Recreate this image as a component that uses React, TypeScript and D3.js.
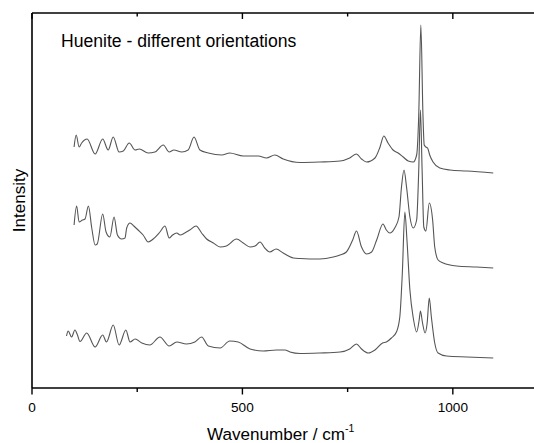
import React from "react";
import * as d3 from "d3";

const TITLE = "Huenite - different orientations";
const X_LABEL = "Wavenumber / cm";
const Y_LABEL = "Intensity";
const X_DOMAIN: [number, number] = [0, 1200];
const Y_DOMAIN: [number, number] = [0, 375];
const MAJOR_TICKS = [0, 500, 1000];
const MINOR_TICKS = [250, 750];

// [wavenumber (cm-1), intensity (a.u., offset)]
const topSpectrum: [number, number][] = [
  [100, 241], [105, 253], [112, 241], [118, 245], [131, 249], [150, 234], [168, 249],
  [181, 238], [193, 251], [207, 236], [217, 237], [231, 245], [245, 238], [255, 239],
  [276, 235], [292, 236], [312, 243], [326, 236], [337, 238], [356, 236], [371, 238],
  [385, 251], [399, 238], [419, 235], [451, 233], [470, 235], [502, 232], [538, 232],
  [557, 230], [577, 233], [597, 229], [637, 225.5], [684, 226], [732, 227], [755, 230],
  [771, 234], [783, 229], [795, 226], [815, 230], [827, 241], [836, 252], [846, 245],
  [858, 238], [870, 235], [882, 231], [894, 227], [906, 226], [914, 233], [919, 273],
  [924, 363], [929, 273], [932, 243], [936, 241], [940, 240], [945, 233], [953, 226],
  [969, 220], [993, 218], [1033, 217], [1096, 215],
];

const middleSpectrum: [number, number][] = [
  [100, 163], [106, 182], [112, 166], [120, 168], [126, 169], [134, 182], [142, 160],
  [150, 143], [155, 144], [168, 174], [176, 156], [185, 151], [195, 171], [203, 153],
  [213, 149], [221, 150], [225, 160], [233, 165], [242, 162], [252, 158], [264, 153],
  [276, 146], [288, 149], [304, 156], [316, 162], [326, 150], [334, 153], [344, 155],
  [352, 153], [363, 155], [375, 158], [390, 162], [403, 155], [415, 149], [431, 145],
  [447, 141], [462, 142], [486, 149], [502, 145], [518, 141], [530, 142], [542, 146],
  [553, 140], [565, 136], [580, 139], [597, 135], [621, 130], [637, 129.5], [684, 129],
  [716, 131], [732, 133], [747, 136], [762, 148], [771, 157], [783, 141], [795, 134],
  [807, 136], [819, 148], [834, 164], [842, 158], [850, 155], [862, 160], [872, 171],
  [878, 201], [884, 218], [890, 201], [898, 171], [906, 160], [914, 168], [919, 218],
  [923, 278], [927, 218], [931, 161], [936, 157], [944, 185], [952, 168], [957, 141],
  [965, 128], [977, 125], [1009, 122], [1056, 121], [1096, 120],
];

const bottomSpectrum: [number, number][] = [
  [82, 52], [86, 57], [94, 51], [102, 58], [108, 53], [114, 46.5], [130, 55], [150, 41],
  [168, 53], [177, 46], [193, 63], [207, 43], [223, 58], [233, 46], [245, 49], [261, 45],
  [280, 43], [304, 51], [326, 42], [344, 46], [367, 44], [387, 46], [403, 51], [419, 42],
  [447, 40], [470, 47], [490, 46], [518, 39], [549, 37], [581, 38], [601, 38], [613, 36],
  [637, 34.5], [684, 35], [732, 36], [755, 39], [771, 44], [783, 39], [799, 35], [815, 38],
  [833, 45], [842, 46], [854, 50], [866, 56], [874, 71], [880, 115], [886, 176], [891, 148],
  [898, 98], [906, 70], [914, 56], [920, 68], [923, 77], [928, 65], [934, 55], [939, 65],
  [944, 90], [949, 71], [957, 45], [965, 35], [985, 32], [1033, 31], [1096, 30],
];

const W = 534;
const H = 443;
const LEFT = 32;
const RIGHT = 537;
const TOP = 13;
const BOTTOM = 388;
const FONT = "'Liberation Sans', Arial, sans-serif";

export default function App() {
  const x = d3.scaleLinear().domain(X_DOMAIN).range([LEFT, RIGHT]);
  const y = d3.scaleLinear().domain(Y_DOMAIN).range([BOTTOM, TOP]);
  const line = d3
    .line<[number, number]>()
    .x((d) => x(d[0]))
    .y((d) => y(d[1]))
    .curve(d3.curveMonotoneX);

  const spectra = [topSpectrum, middleSpectrum, bottomSpectrum];

  return (
    <svg
      width={W}
      height={H}
      style={{ position: "absolute", left: 0, top: 0, background: "#fff" }}
      fontFamily={FONT}
    >
      <rect x={0} y={0} width={W} height={H} fill="#fff" />
      {spectra.map((s, i) => (
        <path key={i} d={line(s) || ""} fill="none" stroke="#555" strokeWidth={1.1} strokeLinejoin="round" />
      ))}
      {/* axes */}
      <line x1={LEFT} x2={W} y1={BOTTOM} y2={BOTTOM} stroke="#000" strokeWidth={1.6} />
      <line x1={LEFT} x2={W} y1={TOP} y2={TOP} stroke="#000" strokeWidth={1.6} />
      <line x1={LEFT} x2={LEFT} y1={TOP} y2={BOTTOM} stroke="#000" strokeWidth={1.6} />
      {MAJOR_TICKS.map((t) => (
        <g key={"M" + t}>
          <line x1={x(t)} x2={x(t)} y1={BOTTOM} y2={BOTTOM + 6.5} stroke="#000" strokeWidth={1.4} />
          <line x1={x(t)} x2={x(t)} y1={TOP} y2={TOP + 6} stroke="#000" strokeWidth={1.4} />
          <text x={x(t)} y={411.5} textAnchor="middle" fontSize={13.6} fill="#000">
            {t}
          </text>
        </g>
      ))}
      {MINOR_TICKS.map((t) => (
        <g key={"m" + t}>
          <line x1={x(t)} x2={x(t)} y1={BOTTOM} y2={BOTTOM + 4} stroke="#000" strokeWidth={1.4} />
          <line x1={x(t)} x2={x(t)} y1={TOP} y2={TOP + 3.5} stroke="#000" strokeWidth={1.4} />
        </g>
      ))}
      <text x={61} y={47} fontSize={17.6} fill="#000">
        {TITLE}
      </text>
      <text
        transform={`translate(25, ${(TOP + BOTTOM) / 2}) rotate(-90)`}
        textAnchor="middle"
        fontSize={17}
        fill="#000"
      >
        {Y_LABEL}
      </text>
      <text x={207} y={440} fontSize={17.1} fill="#000">
        {X_LABEL}
        <tspan dy={-8} fontSize={10.5}>-1</tspan>
      </text>
    </svg>
  );
}
